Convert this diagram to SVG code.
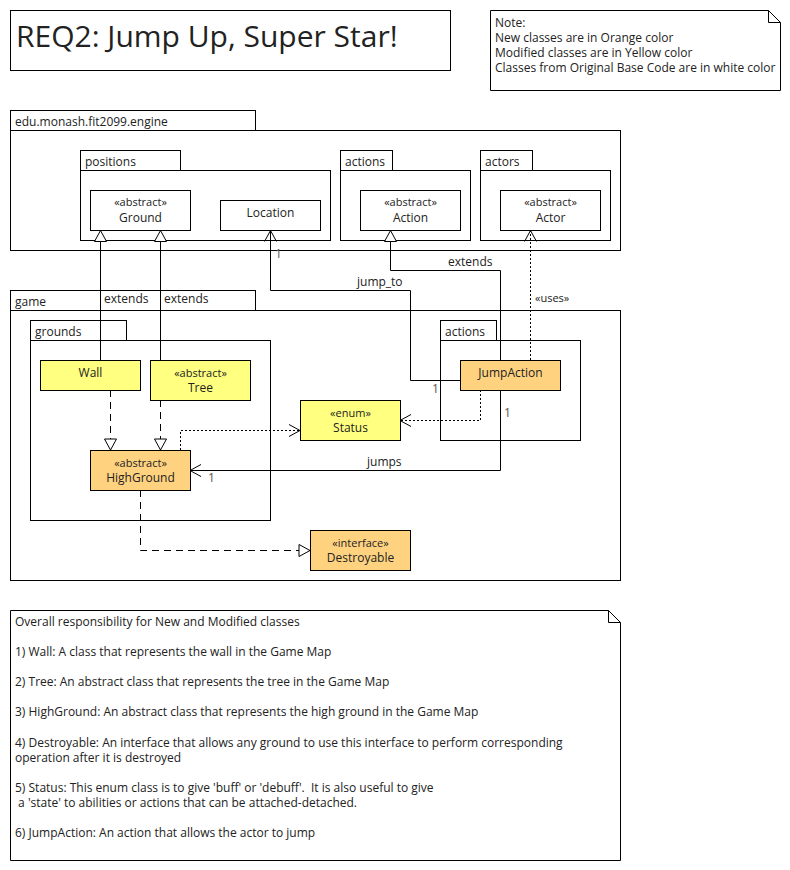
<svg xmlns="http://www.w3.org/2000/svg" width="790" height="870" viewBox="0 0 790 870">
  <style>
    text { font-family: "Open Sans", "Noto Sans", "DejaVu Sans", sans-serif; fill: #222; }
    .pkg { fill: #fff; stroke: #000; stroke-width: 1; }
    .cls { stroke: #000; stroke-width: 1; }
    .base { fill: #fff; }
    .mod { fill: #ffff80; }
    .new { fill: #ffd280; }
    .lbl { font-size: 12px; }
    .ster { font-size: 11px; }
    .name { font-size: 12px; }
    .ctr { text-anchor: middle; }
    .edge { fill: none; stroke: #000; stroke-width: 1; }
    .dash { stroke-dasharray: 7 5; }
    .dot { stroke-dasharray: 2 2; }
    .mult { font-size: 12px; fill: #555; }
    .note { fill: #fff; stroke: #000; stroke-width: 1; }
  </style>
  <defs>
    <marker id="tri" viewBox="0 0 11 12" refX="11" refY="6" markerWidth="11" markerHeight="12" orient="auto" markerUnits="userSpaceOnUse" overflow="visible">
      <path d="M0,0 L11,6 L0,12 Z" fill="#fff" stroke="#000" stroke-width="1"/>
    </marker>
    <marker id="open" viewBox="0 0 11 12" refX="11" refY="6" markerWidth="11" markerHeight="12" orient="auto" markerUnits="userSpaceOnUse" overflow="visible">
      <path d="M0,0 L11,6 L0,12" fill="none" stroke="#000" stroke-width="1"/>
    </marker>
  </defs>
  <rect width="790" height="870" fill="#fff"/>

  <!-- title -->
  <g id="title">
    <rect x="10.5" y="10.5" width="440" height="60" fill="#fff" stroke="#000"/>
    <text x="16" y="47" font-size="30">REQ2: Jump Up, Super Star!</text>
  </g>

  <!-- colour legend -->
  <g id="legend">
    <path class="note" d="M490.5,10.5 H768.5 L780.5,22.5 V90.5 H490.5 Z"/>
    <path class="edge" d="M768.5,10.5 V22.5 H780.5"/>
    <text class="lbl" x="495" y="27">Note:</text>
    <text class="lbl" x="495" y="42">New classes are in Orange color</text>
    <text class="lbl" x="495" y="57">Modified classes are in Yellow color</text>
    <text class="lbl" x="495" y="72">Classes from Original Base Code are in white color</text>
  </g>

  <!-- packages -->
  <g id="pkg-engine">
    <rect class="pkg" x="10.5" y="110.5" width="245" height="20"/>
    <rect class="pkg" x="10.5" y="130.5" width="610" height="120"/>
    <text class="lbl" x="15" y="126">edu.monash.fit2099.engine</text>
  </g>
  <g id="pkg-positions">
    <rect class="pkg" x="80.5" y="150.5" width="100" height="20"/>
    <rect class="pkg" x="80.5" y="170.5" width="250" height="70"/>
    <text class="lbl" x="85" y="166">positions</text>
  </g>
  <g id="pkg-engine-actions">
    <rect class="pkg" x="340.5" y="150.5" width="52" height="20"/>
    <rect class="pkg" x="340.5" y="170.5" width="130" height="70"/>
    <text class="lbl" x="345" y="166">actions</text>
  </g>
  <g id="pkg-actors">
    <rect class="pkg" x="480.5" y="150.5" width="52" height="20"/>
    <rect class="pkg" x="480.5" y="170.5" width="130" height="70"/>
    <text class="lbl" x="485" y="166">actors</text>
  </g>
  <g id="pkg-game">
    <rect class="pkg" x="10.5" y="290.5" width="245" height="20"/>
    <rect class="pkg" x="10.5" y="310.5" width="610" height="270"/>
    <text class="lbl" x="15" y="306">game</text>
  </g>
  <g id="pkg-grounds">
    <rect class="pkg" x="30.5" y="320.5" width="96" height="20"/>
    <rect class="pkg" x="30.5" y="340.5" width="240" height="180"/>
    <text class="lbl" x="35" y="336">grounds</text>
  </g>
  <g id="pkg-game-actions">
    <rect class="pkg" x="440.5" y="320.5" width="56" height="20"/>
    <rect class="pkg" x="440.5" y="340.5" width="140" height="100"/>
    <text class="lbl" x="445" y="336">actions</text>
  </g>

  <!-- connectors -->
  <g id="connectors">
    <path class="edge" d="M100.5,360 V230.5" marker-end="url(#tri)"/>
    <path class="edge" d="M160.5,360 V230.5" marker-end="url(#tri)"/>
    <path class="edge dash" d="M110.5,390 V450" marker-end="url(#tri)"/>
    <path class="edge dash" d="M160.5,400 V450" marker-end="url(#tri)"/>
    <path class="edge dot" d="M180.5,450 V430.5 H300" marker-end="url(#open)"/>
    <path class="edge dot" d="M480.5,390 V420.5 H400" marker-end="url(#open)"/>
    <path class="edge" d="M460,380.5 H410.5 V290.5 H270.5 V230.5" marker-end="url(#open)"/>
    <path class="edge" d="M500.5,360 V270.5 H390.5 V230.5" marker-end="url(#tri)"/>
    <path class="edge dot" d="M530.5,360 V230.5" marker-end="url(#open)"/>
    <path class="edge" d="M500.5,390 V470.5 H190" marker-end="url(#open)"/>
    <path class="edge dash" d="M140.5,490 V550.5 H310" marker-end="url(#tri)"/>

    <text class="lbl" x="104" y="303">extends</text>
    <text class="lbl" x="164" y="303">extends</text>
    <text class="lbl" x="448" y="266">extends</text>
    <text class="lbl" x="357" y="286">jump_to</text>
    <text class="ster" x="535" y="302">«uses»</text>
    <text class="lbl" x="367" y="466">jumps</text>
    <text class="mult" x="275" y="258">1</text>
    <text class="mult" x="432" y="393">1</text>
    <text class="mult" x="504" y="417">1</text>
    <text class="mult" x="208" y="482">1</text>
  </g>

  <!-- classes -->
  <g id="Ground">
    <rect class="cls base" x="90.5" y="190.5" width="100" height="40"/>
    <text class="ster ctr" x="140.5" y="206">«abstract»</text>
    <text class="name ctr" x="140.5" y="222">Ground</text>
  </g>
  <g id="Location">
    <rect class="cls base" x="220.5" y="200.5" width="100" height="30"/>
    <text class="name ctr" x="270.5" y="217">Location</text>
  </g>
  <g id="Action">
    <rect class="cls base" x="360.5" y="190.5" width="100" height="40"/>
    <text class="ster ctr" x="410.5" y="206">«abstract»</text>
    <text class="name ctr" x="410.5" y="222">Action</text>
  </g>
  <g id="Actor">
    <rect class="cls base" x="500.5" y="190.5" width="100" height="40"/>
    <text class="ster ctr" x="550.5" y="206">«abstract»</text>
    <text class="name ctr" x="550.5" y="222">Actor</text>
  </g>
  <g id="Wall">
    <rect class="cls mod" x="40.5" y="360.5" width="100" height="30"/>
    <text class="name ctr" x="90.5" y="377">Wall</text>
  </g>
  <g id="Tree">
    <rect class="cls mod" x="150.5" y="360.5" width="100" height="40"/>
    <text class="ster ctr" x="200.5" y="377">«abstract»</text>
    <text class="name ctr" x="200.5" y="392">Tree</text>
  </g>
  <g id="HighGround">
    <rect class="cls new" x="90.5" y="450.5" width="100" height="40"/>
    <text class="ster ctr" x="140.5" y="467">«abstract»</text>
    <text class="name ctr" x="140.5" y="482">HighGround</text>
  </g>
  <g id="Status">
    <rect class="cls mod" x="300.5" y="400.5" width="100" height="40"/>
    <text class="ster ctr" x="350.5" y="417">«enum»</text>
    <text class="name ctr" x="350.5" y="432">Status</text>
  </g>
  <g id="JumpAction">
    <rect class="cls new" x="460.5" y="360.5" width="100" height="30"/>
    <text class="name ctr" x="510.5" y="377">JumpAction</text>
  </g>
  <g id="Destroyable">
    <rect class="cls new" x="310.5" y="530.5" width="100" height="40"/>
    <text class="ster ctr" x="360.5" y="547">«interface»</text>
    <text class="name ctr" x="360.5" y="562">Destroyable</text>
  </g>

  <!-- responsibilities -->
  <g id="responsibilities">
    <path class="note" d="M10.5,610.5 H608.5 L620.5,622.5 V860.5 H10.5 Z"/>
    <path class="edge" d="M608.5,610.5 V622.5 H620.5"/>
    <text class="lbl" x="15" y="626">Overall responsibility for New and Modified classes</text>
    <text class="lbl" x="15" y="656">1) Wall: A class that represents the wall in the Game Map</text>
    <text class="lbl" x="15" y="686">2) Tree: An abstract class that represents the tree in the Game Map</text>
    <text class="lbl" x="15" y="716">3) HighGround: An abstract class that represents the high ground in the Game Map</text>
    <text class="lbl" x="15" y="747">4) Destroyable: An interface that allows any ground to use this interface to perform corresponding</text>
    <text class="lbl" x="15" y="762">operation after it is destroyed</text>
    <text class="lbl" x="15" y="792" xml:space="preserve">5) Status: This enum class is to give 'buff' or 'debuff'.  It is also useful to give</text>
    <text class="lbl" x="15" y="807" xml:space="preserve"> a 'state' to abilities or actions that can be attached-detached.</text>
    <text class="lbl" x="15" y="837">6) JumpAction: An action that allows the actor to jump</text>
  </g>
</svg>
